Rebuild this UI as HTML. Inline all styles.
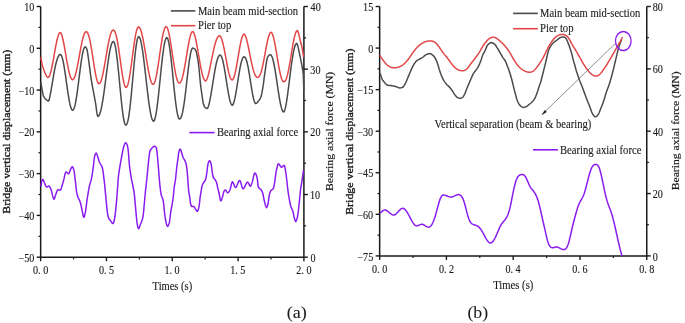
<!DOCTYPE html>
<html><head><meta charset="utf-8"><style>
html,body{margin:0;padding:0;background:#fff;width:685px;height:323px;overflow:hidden}
svg{display:block;will-change:transform}
text{font-family:'Liberation Serif',serif;fill:#1a1a1a;stroke:#1a1a1a;stroke-width:0.12px}
</style></head><body>
<svg width="685" height="323" viewBox="0 0 685 323">
<rect width="685" height="323" fill="#fff"/>
<path d="M40.65,6.5 V257.2 H303.9 V6.5" fill="none" stroke="#1a1a1a" stroke-width="1.5"/>
<line x1="36.65" y1="6.50" x2="40.65" y2="6.50" stroke="#1a1a1a" stroke-width="1.4"/>
<line x1="36.65" y1="48.28" x2="40.65" y2="48.28" stroke="#1a1a1a" stroke-width="1.4"/>
<line x1="36.65" y1="90.07" x2="40.65" y2="90.07" stroke="#1a1a1a" stroke-width="1.4"/>
<line x1="36.65" y1="131.85" x2="40.65" y2="131.85" stroke="#1a1a1a" stroke-width="1.4"/>
<line x1="36.65" y1="173.63" x2="40.65" y2="173.63" stroke="#1a1a1a" stroke-width="1.4"/>
<line x1="36.65" y1="215.42" x2="40.65" y2="215.42" stroke="#1a1a1a" stroke-width="1.4"/>
<line x1="36.65" y1="257.20" x2="40.65" y2="257.20" stroke="#1a1a1a" stroke-width="1.4"/>
<line x1="38.45" y1="27.39" x2="40.65" y2="27.39" stroke="#1a1a1a" stroke-width="1.2"/>
<line x1="38.45" y1="69.17" x2="40.65" y2="69.17" stroke="#1a1a1a" stroke-width="1.2"/>
<line x1="38.45" y1="110.96" x2="40.65" y2="110.96" stroke="#1a1a1a" stroke-width="1.2"/>
<line x1="38.45" y1="152.74" x2="40.65" y2="152.74" stroke="#1a1a1a" stroke-width="1.2"/>
<line x1="38.45" y1="194.52" x2="40.65" y2="194.52" stroke="#1a1a1a" stroke-width="1.2"/>
<line x1="38.45" y1="236.31" x2="40.65" y2="236.31" stroke="#1a1a1a" stroke-width="1.2"/>
<line x1="303.90" y1="6.50" x2="307.90" y2="6.50" stroke="#1a1a1a" stroke-width="1.4"/>
<line x1="303.90" y1="69.17" x2="307.90" y2="69.17" stroke="#1a1a1a" stroke-width="1.4"/>
<line x1="303.90" y1="131.85" x2="307.90" y2="131.85" stroke="#1a1a1a" stroke-width="1.4"/>
<line x1="303.90" y1="194.52" x2="307.90" y2="194.52" stroke="#1a1a1a" stroke-width="1.4"/>
<line x1="303.90" y1="257.20" x2="307.90" y2="257.20" stroke="#1a1a1a" stroke-width="1.4"/>
<line x1="303.90" y1="37.84" x2="306.10" y2="37.84" stroke="#1a1a1a" stroke-width="1.2"/>
<line x1="303.90" y1="100.51" x2="306.10" y2="100.51" stroke="#1a1a1a" stroke-width="1.2"/>
<line x1="303.90" y1="163.19" x2="306.10" y2="163.19" stroke="#1a1a1a" stroke-width="1.2"/>
<line x1="303.90" y1="225.86" x2="306.10" y2="225.86" stroke="#1a1a1a" stroke-width="1.2"/>
<line x1="40.65" y1="257.20" x2="40.65" y2="261.20" stroke="#1a1a1a" stroke-width="1.4"/>
<line x1="106.46" y1="257.20" x2="106.46" y2="261.20" stroke="#1a1a1a" stroke-width="1.4"/>
<line x1="172.28" y1="257.20" x2="172.28" y2="261.20" stroke="#1a1a1a" stroke-width="1.4"/>
<line x1="238.09" y1="257.20" x2="238.09" y2="261.20" stroke="#1a1a1a" stroke-width="1.4"/>
<line x1="303.90" y1="257.20" x2="303.90" y2="261.20" stroke="#1a1a1a" stroke-width="1.4"/>
<line x1="73.56" y1="257.20" x2="73.56" y2="259.40" stroke="#1a1a1a" stroke-width="1.2"/>
<line x1="139.37" y1="257.20" x2="139.37" y2="259.40" stroke="#1a1a1a" stroke-width="1.2"/>
<line x1="205.18" y1="257.20" x2="205.18" y2="259.40" stroke="#1a1a1a" stroke-width="1.2"/>
<line x1="270.99" y1="257.20" x2="270.99" y2="259.40" stroke="#1a1a1a" stroke-width="1.2"/>
<path d="M379.65,6.5 V255.9 H646.75 V6.5" fill="none" stroke="#1a1a1a" stroke-width="1.5"/>
<line x1="375.65" y1="6.50" x2="379.65" y2="6.50" stroke="#1a1a1a" stroke-width="1.4"/>
<line x1="375.65" y1="48.07" x2="379.65" y2="48.07" stroke="#1a1a1a" stroke-width="1.4"/>
<line x1="375.65" y1="89.63" x2="379.65" y2="89.63" stroke="#1a1a1a" stroke-width="1.4"/>
<line x1="375.65" y1="131.20" x2="379.65" y2="131.20" stroke="#1a1a1a" stroke-width="1.4"/>
<line x1="375.65" y1="172.77" x2="379.65" y2="172.77" stroke="#1a1a1a" stroke-width="1.4"/>
<line x1="375.65" y1="214.33" x2="379.65" y2="214.33" stroke="#1a1a1a" stroke-width="1.4"/>
<line x1="375.65" y1="255.90" x2="379.65" y2="255.90" stroke="#1a1a1a" stroke-width="1.4"/>
<line x1="377.45" y1="27.28" x2="379.65" y2="27.28" stroke="#1a1a1a" stroke-width="1.2"/>
<line x1="377.45" y1="68.85" x2="379.65" y2="68.85" stroke="#1a1a1a" stroke-width="1.2"/>
<line x1="377.45" y1="110.42" x2="379.65" y2="110.42" stroke="#1a1a1a" stroke-width="1.2"/>
<line x1="377.45" y1="151.98" x2="379.65" y2="151.98" stroke="#1a1a1a" stroke-width="1.2"/>
<line x1="377.45" y1="193.55" x2="379.65" y2="193.55" stroke="#1a1a1a" stroke-width="1.2"/>
<line x1="377.45" y1="235.12" x2="379.65" y2="235.12" stroke="#1a1a1a" stroke-width="1.2"/>
<line x1="646.75" y1="6.50" x2="650.75" y2="6.50" stroke="#1a1a1a" stroke-width="1.4"/>
<line x1="646.75" y1="68.85" x2="650.75" y2="68.85" stroke="#1a1a1a" stroke-width="1.4"/>
<line x1="646.75" y1="131.20" x2="650.75" y2="131.20" stroke="#1a1a1a" stroke-width="1.4"/>
<line x1="646.75" y1="193.55" x2="650.75" y2="193.55" stroke="#1a1a1a" stroke-width="1.4"/>
<line x1="646.75" y1="255.90" x2="650.75" y2="255.90" stroke="#1a1a1a" stroke-width="1.4"/>
<line x1="646.75" y1="37.67" x2="648.95" y2="37.67" stroke="#1a1a1a" stroke-width="1.2"/>
<line x1="646.75" y1="100.02" x2="648.95" y2="100.02" stroke="#1a1a1a" stroke-width="1.2"/>
<line x1="646.75" y1="162.38" x2="648.95" y2="162.38" stroke="#1a1a1a" stroke-width="1.2"/>
<line x1="646.75" y1="224.73" x2="648.95" y2="224.73" stroke="#1a1a1a" stroke-width="1.2"/>
<line x1="379.65" y1="255.90" x2="379.65" y2="259.90" stroke="#1a1a1a" stroke-width="1.4"/>
<line x1="446.42" y1="255.90" x2="446.42" y2="259.90" stroke="#1a1a1a" stroke-width="1.4"/>
<line x1="513.20" y1="255.90" x2="513.20" y2="259.90" stroke="#1a1a1a" stroke-width="1.4"/>
<line x1="579.98" y1="255.90" x2="579.98" y2="259.90" stroke="#1a1a1a" stroke-width="1.4"/>
<line x1="646.75" y1="255.90" x2="646.75" y2="259.90" stroke="#1a1a1a" stroke-width="1.4"/>
<line x1="413.04" y1="255.90" x2="413.04" y2="258.10" stroke="#1a1a1a" stroke-width="1.2"/>
<line x1="479.81" y1="255.90" x2="479.81" y2="258.10" stroke="#1a1a1a" stroke-width="1.2"/>
<line x1="546.59" y1="255.90" x2="546.59" y2="258.10" stroke="#1a1a1a" stroke-width="1.2"/>
<line x1="613.36" y1="255.90" x2="613.36" y2="258.10" stroke="#1a1a1a" stroke-width="1.2"/>
<path d="M40.80,82.00 41.30,84.82 41.80,87.92 42.30,91.00 42.80,93.48 43.30,95.47 43.80,96.61 44.30,97.48 44.80,98.19 45.30,98.76 45.80,99.24 46.30,99.67 46.80,100.09 47.30,100.47 47.80,100.78 48.30,100.97 48.60,101.00 49.10,99.87 49.60,97.94 50.10,95.57 50.60,92.92 51.10,90.07 51.60,87.11 52.10,84.10 52.60,81.09 53.10,78.13 53.60,75.25 54.10,72.47 54.60,69.85 55.10,67.38 55.60,65.10 56.10,63.02 56.60,61.15 57.10,59.51 57.60,58.10 58.10,56.91 58.60,55.97 59.10,55.26 59.60,54.79 60.10,54.54 60.40,54.50 60.90,54.75 61.40,55.48 61.90,56.67 62.40,58.29 62.90,60.31 63.40,62.69 63.90,65.40 64.40,68.38 64.90,71.59 65.40,74.98 65.90,78.48 66.40,82.04 66.90,85.60 67.40,89.11 67.90,92.50 68.40,95.72 68.90,98.73 69.40,101.46 69.90,103.88 70.40,105.95 70.90,107.64 71.40,108.91 71.90,109.76 72.40,110.16 72.60,110.20 73.10,109.99 73.60,109.34 74.10,108.23 74.60,106.68 75.10,104.70 75.60,102.31 76.10,99.55 76.60,96.46 77.10,93.08 77.60,89.47 78.10,85.67 78.60,81.76 79.10,77.78 79.60,73.81 80.10,69.91 80.60,66.13 81.10,62.55 81.60,59.22 82.10,56.19 82.60,53.52 83.10,51.24 83.60,49.41 84.10,48.04 84.60,47.17 85.10,46.81 85.20,46.80 85.70,47.07 86.20,47.79 86.70,48.85 87.20,50.32 87.70,53.39 88.20,57.00 88.70,60.51 89.20,64.24 89.70,68.03 90.20,72.00 90.70,75.80 91.20,79.16 91.70,82.24 92.20,85.13 92.70,87.82 93.20,90.42 93.70,93.06 94.20,95.67 94.70,98.34 95.20,101.13 95.70,104.05 96.20,107.55 96.70,111.69 97.20,114.53 97.70,116.33 97.80,116.40 98.30,116.26 98.80,115.79 99.30,114.99 99.80,113.85 100.30,112.36 100.80,110.54 101.30,108.40 101.80,105.96 102.30,103.23 102.80,100.25 103.30,97.04 103.80,93.63 104.30,90.06 104.80,86.36 105.30,82.58 105.80,78.74 106.30,74.90 106.80,71.09 107.30,67.35 107.80,63.73 108.30,60.27 108.80,57.00 109.30,53.96 109.80,51.19 110.30,48.72 110.80,46.57 111.30,44.78 111.80,43.36 112.30,42.33 112.80,41.71 113.30,41.50 113.80,41.79 114.30,42.70 114.80,44.23 115.30,46.35 115.80,49.05 116.30,52.30 116.80,56.03 117.30,60.20 117.80,64.74 118.30,69.58 118.80,74.65 119.30,79.86 119.80,85.14 120.30,90.39 120.80,95.54 121.30,100.50 121.80,105.18 122.30,109.52 122.80,113.44 123.30,116.87 123.80,119.76 124.30,122.07 124.80,123.74 125.30,124.76 125.80,125.10 126.30,124.90 126.80,124.22 127.30,123.01 127.80,121.23 128.30,118.90 128.80,116.02 129.30,112.62 129.80,108.73 130.30,104.41 130.80,99.70 131.30,94.67 131.80,89.39 132.30,83.96 132.80,78.44 133.30,72.93 133.80,67.51 134.30,62.29 134.80,57.33 135.30,52.74 135.80,48.60 136.30,44.97 136.80,41.93 137.30,39.53 137.80,37.82 138.30,36.84 138.70,36.60 139.20,36.88 139.70,37.67 140.20,38.94 140.70,40.67 141.20,42.84 141.70,45.41 142.20,48.36 142.70,51.64 143.20,55.21 143.70,59.05 144.20,63.09 144.70,67.30 145.20,71.63 145.70,76.03 146.20,80.46 146.70,84.86 147.20,89.19 147.70,93.40 148.20,97.45 148.70,101.29 149.20,104.89 149.70,108.21 150.20,111.20 150.70,113.85 151.20,116.12 151.70,118.00 152.20,119.45 152.70,120.48 153.20,121.06 153.60,121.20 154.10,120.86 154.60,119.89 155.10,118.32 155.60,116.18 156.10,113.52 156.60,110.37 157.10,106.79 157.60,102.83 158.10,98.54 158.60,93.99 159.10,89.25 159.60,84.37 160.10,79.44 160.60,74.51 161.10,69.66 161.60,64.95 162.10,60.44 162.60,56.20 163.10,52.29 163.60,48.75 164.10,45.64 164.60,42.99 165.10,40.85 165.60,39.23 166.10,38.16 166.60,37.65 166.80,37.60 167.30,37.95 167.80,38.96 168.30,40.59 168.80,42.81 169.30,45.58 169.80,48.84 170.30,52.56 170.80,56.66 171.30,61.09 171.80,65.76 172.30,70.63 172.80,75.60 173.30,80.60 173.80,85.56 174.30,90.41 174.80,95.07 175.30,99.47 175.80,103.55 176.30,107.25 176.80,110.52 177.30,113.31 177.80,115.57 178.30,117.28 178.80,118.41 179.30,118.95 179.50,119.00 180.00,118.88 180.50,118.43 181.00,117.61 181.50,116.38 182.00,114.74 182.50,112.68 183.00,110.21 183.50,107.35 184.00,104.14 184.50,100.59 185.00,96.77 185.50,92.72 186.00,88.50 186.50,84.16 187.00,79.79 187.50,75.43 188.00,71.18 188.50,67.10 189.00,63.25 189.50,59.71 190.00,56.55 190.50,53.81 191.00,51.57 191.50,49.85 192.00,48.70 192.50,48.15 192.70,48.10 193.20,48.16 193.70,48.32 194.20,48.57 194.70,48.87 195.20,49.45 195.70,50.34 196.20,51.56 196.70,53.57 197.20,56.00 197.70,58.56 198.20,61.59 198.70,65.66 199.20,70.72 199.70,75.95 200.20,81.40 200.70,86.06 201.20,89.68 201.70,93.02 202.20,96.62 202.70,100.25 203.20,103.00 203.70,104.84 204.20,106.17 204.70,106.87 205.20,107.43 205.70,107.89 206.20,108.24 206.70,108.45 207.10,108.50 207.60,108.09 208.10,107.11 208.60,105.67 209.10,103.84 209.60,101.68 210.10,99.23 210.60,96.54 211.10,93.67 211.60,90.66 212.10,87.56 212.60,84.41 213.10,81.25 213.60,78.13 214.10,75.09 214.60,72.16 215.10,69.37 215.60,66.77 216.10,64.38 216.60,62.22 217.10,60.32 217.60,58.70 218.10,57.36 218.60,56.33 219.10,55.61 219.60,55.20 220.00,55.10 220.50,55.27 221.00,55.79 221.50,56.69 222.00,57.96 222.50,59.58 223.00,61.53 223.50,63.79 224.00,66.33 224.50,69.09 225.00,72.05 225.50,75.15 226.00,78.33 226.50,81.56 227.00,84.77 227.50,87.92 228.00,90.93 228.50,93.78 229.00,96.39 229.50,98.74 230.00,100.77 230.50,102.45 231.00,103.75 231.50,104.65 232.00,105.12 232.30,105.20 232.80,104.86 233.30,103.96 233.80,102.60 234.30,100.83 234.80,98.69 235.30,96.25 235.80,93.54 236.30,90.64 236.80,87.59 237.30,84.44 237.80,81.26 238.30,78.09 238.80,75.00 239.30,72.02 239.80,69.20 240.30,66.60 240.80,64.24 241.30,62.16 241.80,60.39 242.30,58.96 242.80,57.88 243.30,57.17 243.80,56.83 244.00,56.80 244.50,56.91 245.00,57.31 245.50,58.03 246.00,59.09 246.50,60.50 247.00,62.25 247.50,64.33 248.00,66.70 248.50,69.33 249.00,72.19 249.50,75.21 250.00,78.36 250.50,81.56 251.00,84.77 251.50,87.90 252.00,90.91 252.50,93.72 253.00,96.27 253.50,98.51 254.00,100.38 254.50,101.85 255.00,102.87 255.50,103.41 255.80,103.50 256.30,103.36 256.80,102.99 257.30,102.46 257.80,101.85 258.30,101.22 258.80,100.62 259.30,99.98 259.80,99.25 260.30,98.37 260.80,97.30 261.30,95.80 261.80,93.41 262.30,90.70 262.80,87.86 263.30,84.68 263.80,80.96 264.30,77.00 264.80,73.43 265.30,70.00 265.80,66.49 266.30,63.15 266.80,60.32 267.30,57.93 267.80,56.89 268.30,56.14 268.80,55.53 269.30,55.08 269.80,54.80 270.30,54.70 270.80,54.87 271.30,55.39 271.80,56.27 272.30,57.51 272.80,59.09 273.30,61.01 273.80,63.23 274.30,65.74 274.80,68.49 275.30,71.45 275.80,74.59 276.30,77.85 276.80,81.20 277.30,84.58 277.80,87.95 278.30,91.26 278.80,94.47 279.30,97.52 279.80,100.38 280.30,103.00 280.80,105.35 281.30,107.38 281.80,109.07 282.30,110.40 282.80,111.33 283.30,111.87 283.70,112.00 284.20,111.53 284.70,110.37 285.20,108.64 285.70,106.43 286.20,103.78 286.70,100.77 287.20,97.45 287.70,93.88 288.20,90.11 288.70,86.21 289.20,82.22 289.70,78.21 290.20,74.22 290.70,70.31 291.20,66.52 291.70,62.91 292.20,59.50 292.70,56.34 293.20,53.47 293.70,50.91 294.20,48.69 294.70,46.83 295.20,45.36 295.70,44.27 296.20,43.59 296.70,43.31 296.80,43.30 297.30,44.08 297.80,45.95 298.30,48.18 298.80,50.23 299.30,52.50 299.80,54.93 300.30,57.40 300.80,59.83 301.30,62.30 301.80,64.95 302.30,67.81 302.80,70.45 303.30,74.74 303.80,90.00" fill="none" stroke="#4a4a4a" stroke-width="1.5" stroke-linejoin="round"/>
<path d="M40.90,57.00 41.40,60.70 41.90,63.45 42.40,65.38 42.90,66.96 43.40,68.41 43.90,69.89 44.40,71.36 44.90,72.72 45.40,73.91 45.90,74.87 46.40,75.80 46.90,76.65 47.40,77.26 47.90,77.50 48.40,77.34 48.90,76.83 49.40,75.99 49.90,74.82 50.40,73.33 50.90,71.55 51.40,69.50 51.90,67.22 52.40,64.74 52.90,62.10 53.40,59.34 53.90,56.51 54.40,53.64 54.90,50.80 55.40,48.02 55.90,45.36 56.40,42.85 56.90,40.53 57.40,38.45 57.90,36.64 58.40,35.13 58.90,33.94 59.40,33.10 59.90,32.62 60.30,32.50 60.80,32.85 61.30,33.74 61.80,35.05 62.30,36.73 62.80,38.74 63.30,41.01 63.80,43.52 64.30,46.20 64.80,49.01 65.30,51.91 65.80,54.84 66.30,57.77 66.80,60.65 67.30,63.44 67.80,66.11 68.30,68.61 68.80,70.91 69.30,72.99 69.80,74.83 70.30,76.39 70.80,77.66 71.30,78.63 71.80,79.30 72.30,79.64 72.60,79.70 73.10,79.53 73.60,79.03 74.10,78.21 74.60,77.09 75.10,75.69 75.60,74.01 76.10,72.09 76.60,69.96 77.10,67.64 77.60,65.16 78.10,62.55 78.60,59.86 79.10,57.11 79.60,54.35 80.10,51.61 80.60,48.92 81.10,46.33 81.60,43.85 82.10,41.54 82.60,39.41 83.10,37.50 83.60,35.83 84.10,34.42 84.60,33.29 85.10,32.46 85.60,31.93 86.10,31.71 86.20,31.70 86.70,31.83 87.20,32.27 87.70,33.03 88.20,34.14 88.70,35.58 89.20,37.35 89.70,39.43 90.20,41.79 90.70,44.40 91.20,47.23 91.70,50.24 92.20,53.38 92.70,56.60 93.20,59.86 93.70,63.09 94.20,66.26 94.70,69.29 95.20,72.16 95.70,74.79 96.20,77.16 96.70,79.21 97.20,80.91 97.70,82.23 98.20,83.14 98.70,83.62 99.00,83.70 99.50,83.52 100.00,83.00 100.50,82.14 101.00,80.97 101.50,79.49 102.00,77.73 102.50,75.72 103.00,73.47 103.50,71.02 104.00,68.40 104.50,65.64 105.00,62.77 105.50,59.84 106.00,56.86 106.50,53.90 107.00,50.97 107.50,48.11 108.00,45.37 108.50,42.77 109.00,40.34 109.50,38.12 110.00,36.12 110.50,34.39 111.00,32.92 111.50,31.75 112.00,30.88 112.50,30.33 113.00,30.11 113.10,30.10 113.60,30.19 114.10,30.54 114.60,31.19 115.10,32.18 115.60,33.51 116.10,35.19 116.60,37.22 117.10,39.58 117.60,42.25 118.10,45.19 118.60,48.37 119.10,51.75 119.60,55.28 120.10,58.89 120.60,62.54 121.10,66.15 121.60,69.67 122.10,73.03 122.60,76.17 123.10,79.02 123.60,81.53 124.10,83.65 124.60,85.33 125.10,86.54 125.60,87.23 126.00,87.40 126.50,87.19 127.00,86.54 127.50,85.44 128.00,83.91 128.50,81.96 129.00,79.63 129.50,76.94 130.00,73.93 130.50,70.65 131.00,67.15 131.50,63.49 132.00,59.73 132.50,55.91 133.00,52.12 133.50,48.39 134.00,44.81 134.50,41.42 135.00,38.28 135.50,35.44 136.00,32.96 136.50,30.86 137.00,29.20 137.50,27.98 138.00,27.25 138.50,27.00 139.00,27.15 139.50,27.61 140.00,28.39 140.50,29.47 141.00,30.85 141.50,32.51 142.00,34.43 142.50,36.60 143.00,38.98 143.50,41.56 144.00,44.31 144.50,47.18 145.00,50.16 145.50,53.20 146.00,56.27 146.50,59.34 147.00,62.37 147.50,65.33 148.00,68.17 148.50,70.88 149.00,73.40 149.50,75.73 150.00,77.82 150.50,79.66 151.00,81.22 151.50,82.49 152.00,83.44 152.50,84.07 153.00,84.37 153.20,84.40 153.70,84.15 154.20,83.44 154.70,82.30 155.20,80.75 155.70,78.83 156.20,76.58 156.70,74.01 157.20,71.18 157.70,68.13 158.20,64.91 158.70,61.56 159.20,58.12 159.70,54.66 160.20,51.22 160.70,47.84 161.20,44.58 161.70,41.48 162.20,38.58 162.70,35.93 163.20,33.55 163.70,31.48 164.20,29.75 164.70,28.39 165.20,27.40 165.70,26.80 166.20,26.60 166.70,26.90 167.20,27.70 167.70,28.94 168.20,30.58 168.70,32.58 169.20,34.90 169.70,37.49 170.20,40.32 170.70,43.34 171.20,46.51 171.70,49.77 172.20,53.09 172.70,56.42 173.20,59.71 173.70,62.91 174.20,66.00 174.70,68.93 175.20,71.65 175.70,74.15 176.20,76.38 176.70,78.33 177.20,79.96 177.70,81.27 178.20,82.23 178.70,82.84 179.20,83.09 179.30,83.10 179.80,82.98 180.30,82.59 180.80,81.91 181.30,80.91 181.80,79.61 182.30,78.01 182.80,76.13 183.30,73.98 183.80,71.60 184.30,69.00 184.80,66.22 185.30,63.31 185.80,60.29 186.30,57.22 186.80,54.13 187.30,51.08 187.80,48.10 188.30,45.25 188.80,42.57 189.30,40.10 189.80,37.87 190.30,35.94 190.80,34.32 191.30,33.05 191.80,32.15 192.30,31.63 192.70,31.50 193.20,31.80 193.70,32.57 194.20,33.75 194.70,35.29 195.20,37.15 195.70,39.29 196.20,41.67 196.70,44.24 197.20,46.97 197.70,49.81 198.20,52.72 198.70,55.67 199.20,58.60 199.70,61.48 200.20,64.27 200.70,66.94 201.20,69.45 201.70,71.77 202.20,73.88 202.70,75.74 203.20,77.34 203.70,78.65 204.20,79.68 204.70,80.39 205.20,80.80 205.60,80.90 206.10,80.58 206.60,79.81 207.10,78.69 207.60,77.28 208.10,75.60 208.60,73.72 209.10,71.64 209.60,69.42 210.10,67.09 210.60,64.67 211.10,62.20 211.60,59.71 212.10,57.23 212.60,54.78 213.10,52.40 213.60,50.10 214.10,47.92 214.60,45.87 215.10,43.97 215.60,42.24 216.10,40.69 216.60,39.34 217.10,38.20 217.60,37.27 218.10,36.57 218.60,36.09 219.10,35.84 219.40,35.80 219.90,35.95 220.40,36.40 220.90,37.17 221.40,38.25 221.90,39.62 222.40,41.27 222.90,43.18 223.40,45.31 223.90,47.64 224.40,50.14 224.90,52.76 225.40,55.46 225.90,58.20 226.40,60.95 226.90,63.65 227.40,66.27 227.90,68.76 228.40,71.08 228.90,73.19 229.40,75.07 229.90,76.68 230.40,78.00 230.90,78.99 231.40,79.66 231.90,79.97 232.10,80.00 232.60,79.79 233.10,79.19 233.60,78.20 234.10,76.86 234.60,75.17 235.10,73.19 235.60,70.93 236.10,68.44 236.60,65.76 237.10,62.93 237.60,60.01 238.10,57.04 238.60,54.07 239.10,51.16 239.60,48.34 240.10,45.67 240.60,43.19 241.10,40.94 241.60,38.96 242.10,37.27 242.60,35.92 243.10,34.91 243.60,34.27 244.10,34.01 244.20,34.00 244.70,34.38 245.20,35.25 245.70,36.49 246.20,38.04 246.70,39.84 247.20,41.85 247.70,44.03 248.20,46.35 248.70,48.76 249.20,51.23 249.70,53.72 250.20,56.22 250.70,58.67 251.20,61.06 251.70,63.37 252.20,65.55 252.70,67.60 253.20,69.50 253.70,71.22 254.20,72.74 254.70,74.07 255.20,75.18 255.70,76.07 256.20,76.74 256.70,77.18 257.20,77.38 257.40,77.40 257.90,77.34 258.40,77.12 258.90,76.70 259.40,76.04 259.90,75.15 260.40,74.02 260.90,72.63 261.40,71.01 261.90,69.16 262.40,67.09 262.90,64.84 263.40,62.41 263.90,59.86 264.40,57.20 264.90,54.48 265.40,51.74 265.90,49.02 266.40,46.37 266.90,43.82 267.40,41.44 267.90,39.25 268.40,37.30 268.90,35.62 269.40,34.26 269.90,33.24 270.40,32.58 270.90,32.31 271.00,32.30 271.50,32.53 272.00,33.19 272.50,34.24 273.00,35.65 273.50,37.39 274.00,39.44 274.50,41.74 275.00,44.28 275.50,47.00 276.00,49.86 276.50,52.83 277.00,55.84 277.50,58.87 278.00,61.86 278.50,64.78 279.00,67.57 279.50,70.20 280.00,72.64 280.50,74.84 281.00,76.78 281.50,78.43 282.00,79.77 282.50,80.79 283.00,81.45 283.50,81.77 283.70,81.80 284.20,81.72 284.70,81.42 285.20,80.87 285.70,80.05 286.20,78.94 286.70,77.55 287.20,75.88 287.70,73.94 288.20,71.75 288.70,69.34 289.20,66.72 289.70,63.93 290.20,61.01 290.70,58.00 291.20,54.94 291.70,51.87 292.20,48.84 292.70,45.91 293.20,43.11 293.70,40.49 294.20,38.10 294.70,35.99 295.20,34.17 295.70,32.71 296.20,31.61 296.70,30.90 297.20,30.61 297.30,30.60 297.80,31.09 298.30,32.39 298.80,34.26 299.30,36.43 299.80,38.66 300.30,40.70 300.80,42.56 301.30,44.49 301.80,46.60 302.30,49.01 302.80,51.82 303.30,54.98 303.60,57.00" fill="none" stroke="#e24646" stroke-width="1.5" stroke-linejoin="round"/>
<path d="M41.00,186.30 41.50,182.35 42.00,180.53 42.50,179.65 43.00,179.43 43.50,180.25 44.00,181.68 44.50,183.00 45.00,184.15 45.50,185.38 46.00,186.43 46.50,187.04 47.00,187.04 47.50,186.74 48.00,186.36 48.50,186.06 49.00,186.04 49.50,186.49 50.00,187.31 50.50,188.36 51.00,189.50 51.50,191.10 52.00,193.20 52.50,195.17 53.00,196.86 53.50,198.48 54.00,199.20 54.50,198.54 55.00,196.99 55.50,195.19 56.00,193.76 56.50,192.40 57.00,191.05 57.50,190.01 58.00,189.60 58.50,189.68 59.00,189.86 59.50,190.06 60.00,190.19 60.50,190.02 61.00,189.04 61.50,187.52 62.00,185.80 62.50,184.20 63.00,182.59 63.50,180.82 64.00,178.88 64.50,176.30 65.00,173.86 65.50,172.67 66.00,172.07 66.50,172.08 67.00,172.47 67.50,173.01 68.00,173.52 68.50,173.79 69.00,173.44 69.50,172.26 70.00,170.80 70.50,169.60 71.00,168.64 71.50,167.69 72.00,167.00 72.50,166.82 73.00,167.44 73.50,168.75 74.00,170.50 74.50,173.96 75.00,178.31 75.50,182.45 76.00,186.85 76.50,191.37 77.00,193.95 77.50,195.83 78.00,197.30 78.50,198.43 79.00,199.34 79.50,200.32 80.00,201.63 80.50,203.24 81.00,205.10 81.50,207.44 82.00,210.07 82.50,212.45 83.00,215.03 83.50,217.00 84.00,217.27 84.50,216.01 85.00,213.90 85.50,211.49 86.00,208.03 86.50,203.98 87.00,200.41 87.50,196.99 88.00,193.80 88.50,190.77 89.00,187.91 89.50,185.50 90.00,183.70 90.50,182.20 91.00,180.50 91.50,178.25 92.00,175.52 92.50,172.46 93.00,168.90 93.50,165.04 94.00,160.91 94.50,156.95 95.00,155.14 95.50,153.80 96.00,153.07 96.50,153.23 97.00,154.37 97.50,155.91 98.00,157.46 98.50,159.34 99.00,161.00 99.50,162.22 100.00,163.26 100.50,164.20 101.00,164.96 101.50,165.64 102.00,166.60 102.50,168.43 103.00,171.10 103.50,174.98 104.00,179.09 104.50,183.18 105.00,188.17 105.50,193.80 106.00,198.64 106.50,203.56 107.00,209.32 107.50,213.29 108.00,216.03 108.50,217.87 109.00,218.80 109.50,219.43 110.00,219.95 110.50,220.57 111.00,221.33 111.50,222.14 112.00,222.87 112.50,223.40 113.00,223.60 113.50,222.95 114.00,221.30 114.50,219.06 115.00,216.24 115.50,211.81 116.00,206.80 116.50,201.59 117.00,195.51 117.50,188.45 118.00,181.65 118.50,175.80 119.00,171.93 119.50,168.80 120.00,165.79 120.50,162.88 121.00,160.13 121.50,157.51 122.00,154.90 122.50,152.23 123.00,149.68 123.50,147.47 124.00,145.80 124.50,144.45 125.00,143.31 125.50,142.72 126.00,142.86 126.50,143.48 127.00,144.48 127.50,145.80 128.00,148.85 128.50,153.52 129.00,160.17 129.50,165.90 130.00,169.91 130.50,173.31 131.00,176.33 131.50,179.16 132.00,181.64 132.50,184.00 133.00,186.50 133.50,189.01 134.00,191.75 134.50,195.60 135.00,201.37 135.50,207.03 136.00,212.50 136.50,217.79 137.00,222.54 137.50,225.49 138.00,227.66 138.50,228.60 139.00,228.14 139.50,227.01 140.00,225.59 140.50,224.25 141.00,223.07 141.50,221.86 142.00,220.47 142.50,218.77 143.00,216.60 143.50,212.75 144.00,207.31 144.50,201.79 145.00,195.95 145.50,190.90 146.00,186.40 146.50,182.01 147.00,177.50 147.50,172.07 148.00,166.74 148.50,161.80 149.00,157.25 149.50,153.01 150.00,150.95 150.50,149.93 151.00,149.24 151.50,148.65 152.00,148.07 152.50,147.53 153.00,147.04 153.50,146.65 154.00,146.36 154.50,146.21 155.00,146.26 155.50,146.64 156.00,147.34 156.50,148.42 157.00,152.22 157.50,157.02 158.00,162.48 158.50,168.47 159.00,175.05 159.50,180.95 160.00,186.19 160.50,190.51 161.00,193.80 161.50,195.71 162.00,197.05 162.50,198.29 163.00,199.93 163.50,202.72 164.00,207.39 164.50,212.50 165.00,216.46 165.50,219.50 166.00,222.00 166.50,223.94 167.00,225.64 167.50,226.40 168.00,226.05 168.50,225.11 169.00,223.75 169.50,221.88 170.00,217.99 170.50,213.70 171.00,210.54 171.50,207.71 172.00,204.87 172.50,202.14 173.00,199.00 173.50,194.49 174.00,189.24 174.50,185.00 175.00,182.57 175.50,179.50 176.00,174.76 176.50,169.73 177.00,165.00 177.50,161.78 178.00,158.55 178.50,154.18 179.00,151.52 179.50,149.87 180.00,149.03 180.50,149.37 181.00,150.59 181.50,152.18 182.00,153.73 182.50,155.57 183.00,157.25 183.50,158.30 184.00,159.07 184.50,159.83 185.00,160.82 185.50,162.08 186.00,163.70 186.50,166.03 187.00,169.63 187.50,175.36 188.00,182.50 188.50,189.01 189.00,193.28 189.50,195.69 190.00,199.23 190.50,203.35 191.00,205.10 191.50,206.27 192.00,206.60 192.50,206.51 193.00,206.39 193.50,206.30 194.00,206.55 194.50,207.34 195.00,208.33 195.50,209.14 196.00,209.95 196.50,210.75 197.00,211.29 197.50,211.31 198.00,210.41 198.50,208.83 199.00,206.84 199.50,203.01 200.00,198.37 200.50,194.80 201.00,191.77 201.50,188.73 202.00,186.00 202.50,184.64 203.00,183.65 203.50,182.83 204.00,182.05 204.50,181.46 205.00,180.83 205.50,179.90 206.00,177.88 206.50,174.82 207.00,171.50 207.50,167.26 208.00,163.87 208.50,162.36 209.00,161.25 209.50,160.72 210.00,160.99 210.50,162.02 211.00,163.50 211.50,166.65 212.00,170.50 212.50,173.62 213.00,176.30 213.50,177.72 214.00,178.49 214.50,179.04 215.00,179.58 215.50,180.30 216.00,181.27 216.50,182.49 217.00,184.20 217.50,186.82 218.00,189.07 218.50,191.01 219.00,193.00 219.50,195.60 220.00,198.49 220.50,200.58 221.00,200.90 221.50,199.96 222.00,198.43 222.50,196.80 223.00,194.84 223.50,192.68 224.00,191.32 224.50,190.47 225.00,189.95 225.50,190.01 226.00,190.55 226.50,191.35 227.00,192.15 227.50,192.69 228.00,192.76 228.50,192.38 229.00,191.67 229.50,190.77 230.00,189.80 230.50,188.29 231.00,186.10 231.50,183.86 232.00,182.19 232.50,181.72 233.00,182.28 233.50,183.40 234.00,184.79 234.50,186.15 235.00,187.19 235.50,187.60 236.00,187.32 236.50,186.57 237.00,185.50 237.50,184.26 238.00,182.98 238.50,181.83 239.00,180.93 239.50,180.45 240.00,180.60 240.50,181.64 241.00,183.28 241.50,185.17 242.00,186.95 242.50,188.28 243.00,188.80 243.50,188.58 244.00,188.00 244.50,187.15 245.00,186.14 245.50,185.07 246.00,184.04 246.50,183.15 247.00,182.51 247.50,182.21 248.00,182.42 248.50,183.17 249.00,184.20 249.50,185.23 250.00,185.98 250.50,186.18 251.00,185.49 251.50,184.26 252.00,182.96 252.50,181.14 253.00,178.93 253.50,176.67 254.00,174.70 254.50,173.37 255.00,173.01 255.50,173.38 256.00,174.27 256.50,175.64 257.00,177.49 257.50,180.17 258.00,185.71 258.50,187.20 259.00,188.05 259.50,188.60 260.00,188.94 260.50,189.25 261.00,189.71 261.50,190.42 262.00,191.37 262.50,192.55 263.00,194.21 263.50,196.77 264.00,199.30 264.50,201.50 265.00,203.64 265.50,205.46 266.00,206.80 266.50,207.60 267.00,207.07 267.50,205.69 268.00,203.81 268.50,201.11 269.00,196.76 269.50,194.14 270.00,192.52 270.50,191.31 271.00,190.50 271.50,190.03 272.00,189.75 272.50,189.47 273.00,189.05 273.50,188.13 274.00,186.11 274.50,183.50 275.00,179.82 275.50,176.11 276.00,172.66 276.50,169.71 277.00,167.57 277.50,165.61 278.00,164.21 278.50,163.81 279.00,164.13 279.50,164.78 280.00,165.58 280.50,166.37 281.00,166.96 281.50,167.20 282.00,167.02 282.50,166.57 283.00,166.03 283.50,165.56 284.00,165.31 284.50,165.80 285.00,167.64 285.50,170.49 286.00,173.98 286.50,177.76 287.00,181.72 287.50,186.97 288.00,191.10 288.50,194.49 289.00,197.50 289.50,200.36 290.00,203.03 290.50,205.27 291.00,206.90 291.50,208.09 292.00,209.11 292.50,210.24 293.00,211.76 293.50,214.16 294.00,216.70 294.50,218.59 295.00,220.36 295.50,221.48 296.00,221.39 296.50,220.30 297.00,218.62 297.50,216.62 298.00,213.49 298.50,209.60 299.00,205.11 299.50,200.00 300.00,194.72 300.50,190.00 301.00,186.70 301.50,183.84 302.00,180.62 302.50,177.21 303.00,173.68 303.50,170.00" fill="none" stroke="#8a1cf0" stroke-width="1.5" stroke-linejoin="round"/>
<path d="M380.20,73.40 380.70,75.06 381.20,76.60 381.70,77.97 382.20,79.11 382.70,80.03 383.20,80.81 383.70,81.51 384.20,82.12 384.70,82.68 385.20,83.21 385.70,83.75 386.20,84.27 386.70,84.72 387.20,85.05 387.70,85.22 388.20,85.31 388.70,85.37 389.20,85.42 389.70,85.46 390.20,85.50 390.70,85.55 391.20,85.61 391.70,85.69 392.20,85.78 392.70,85.87 393.20,85.97 393.70,86.08 394.20,86.19 394.70,86.31 395.20,86.43 395.70,86.55 396.20,86.72 396.70,86.91 397.20,87.12 397.70,87.34 398.20,87.53 398.70,87.70 399.20,87.83 399.70,87.89 400.20,87.89 400.70,87.84 401.20,87.76 401.70,87.64 402.20,87.50 402.70,87.31 403.20,86.88 403.70,86.24 404.20,85.45 404.70,84.59 405.20,83.73 405.70,82.76 406.20,81.65 406.70,80.46 407.20,79.24 407.70,78.03 408.20,76.86 408.70,75.65 409.20,74.44 409.70,73.23 410.20,72.06 410.70,70.92 411.20,69.76 411.70,68.63 412.20,67.54 412.70,66.54 413.20,65.65 413.70,64.80 414.20,63.97 414.70,63.19 415.20,62.47 415.70,61.83 416.20,61.28 416.70,60.83 417.20,60.47 417.70,60.15 418.20,59.86 418.70,59.59 419.20,59.30 419.70,59.01 420.20,58.73 420.70,58.46 421.20,58.19 421.70,57.91 422.20,57.62 422.70,57.30 423.20,56.93 423.70,56.51 424.20,56.07 424.70,55.63 425.20,55.21 425.70,54.86 426.20,54.60 426.70,54.39 427.20,54.19 427.70,54.00 428.20,53.84 428.70,53.71 429.20,53.63 429.70,53.60 430.20,53.66 430.70,53.83 431.20,54.08 431.70,54.40 432.20,54.78 432.70,55.18 433.20,55.60 433.70,56.09 434.20,56.70 434.70,57.43 435.20,58.24 435.70,59.13 436.20,60.11 436.70,61.30 437.20,62.66 437.70,64.10 438.20,65.74 438.70,67.53 439.20,69.26 439.70,70.81 440.20,72.29 440.70,73.70 441.20,75.02 441.70,76.23 442.20,77.37 442.70,78.44 443.20,79.43 443.70,80.33 444.20,81.14 444.70,81.90 445.20,82.60 445.70,83.25 446.20,83.86 446.70,84.44 447.20,84.96 447.70,85.44 448.20,85.90 448.70,86.37 449.20,86.85 449.70,87.37 450.20,87.96 450.70,88.59 451.20,89.26 451.70,89.96 452.20,90.67 452.70,91.40 453.20,92.19 453.70,93.02 454.20,93.83 454.70,94.58 455.20,95.22 455.70,95.82 456.20,96.39 456.70,96.91 457.20,97.34 457.70,97.66 458.20,97.86 458.70,98.05 459.20,98.20 459.70,98.28 460.20,98.29 460.70,98.22 461.20,98.07 461.70,97.88 462.20,97.65 462.70,97.24 463.20,96.61 463.70,95.82 464.20,94.93 464.70,93.99 465.20,92.92 465.70,91.59 466.20,90.19 466.70,88.90 467.20,87.68 467.70,86.47 468.20,85.28 468.70,84.10 469.20,82.92 469.70,81.75 470.20,80.59 470.70,79.45 471.20,78.32 471.70,77.15 472.20,76.00 472.70,74.90 473.20,73.92 473.70,73.09 474.20,72.39 474.70,71.78 475.20,71.19 475.70,70.58 476.20,69.90 476.70,69.15 477.20,68.36 477.70,67.53 478.20,66.64 478.70,65.70 479.20,64.68 479.70,63.57 480.20,62.37 480.70,61.10 481.20,59.72 481.70,58.08 482.20,56.40 482.70,55.00 483.20,53.95 483.70,53.07 484.20,52.25 484.70,51.38 485.20,50.36 485.70,49.14 486.20,47.87 486.70,46.67 487.20,45.71 487.70,45.08 488.20,44.54 488.70,44.04 489.20,43.59 489.70,43.20 490.20,42.90 490.70,42.69 491.20,42.60 491.70,42.63 492.20,42.76 492.70,42.96 493.20,43.22 493.70,43.53 494.20,43.86 494.70,44.24 495.20,44.80 495.70,45.49 496.20,46.25 496.70,47.04 497.20,47.81 497.70,48.61 498.20,49.46 498.70,50.33 499.20,51.21 499.70,52.07 500.20,52.93 500.70,53.79 501.20,54.65 501.70,55.54 502.20,56.46 502.70,57.36 503.20,58.14 503.70,58.78 504.20,59.35 504.70,59.99 505.20,60.83 505.70,61.87 506.20,63.05 506.70,64.32 507.20,65.63 507.70,66.91 508.20,68.23 508.70,69.59 509.20,71.02 509.70,72.50 510.20,74.06 510.70,75.70 511.20,77.42 511.70,79.25 512.20,81.22 512.70,83.29 513.20,85.38 513.70,87.40 514.20,89.39 514.70,91.35 515.20,93.26 515.70,95.11 516.20,96.98 516.70,98.75 517.20,100.25 517.70,101.46 518.20,102.59 518.70,103.60 519.20,104.44 519.70,105.10 520.20,105.59 520.70,106.06 521.20,106.49 521.70,106.86 522.20,107.15 522.70,107.33 523.20,107.40 523.70,107.37 524.20,107.29 524.70,107.15 525.20,106.99 525.70,106.79 526.20,106.57 526.70,106.35 527.20,106.07 527.70,105.67 528.20,105.22 528.70,104.77 529.20,104.37 529.70,103.99 530.20,103.62 530.70,103.23 531.20,102.80 531.70,102.33 532.20,101.85 532.70,101.33 533.20,100.77 533.70,100.15 534.20,99.45 534.70,98.67 535.20,97.70 535.70,96.56 536.20,95.29 536.70,93.95 537.20,92.58 537.70,91.12 538.20,89.49 538.70,87.80 539.20,86.18 539.70,84.77 540.20,83.55 540.70,82.05 541.20,80.25 541.70,78.29 542.20,76.28 542.70,74.33 543.20,72.39 543.70,70.42 544.20,68.43 544.70,66.40 545.20,64.32 545.70,62.19 546.20,60.04 546.70,57.92 547.20,55.74 547.70,53.46 548.20,51.44 548.70,49.98 549.20,48.80 549.70,47.78 550.20,46.89 550.70,46.09 551.20,45.36 551.70,44.68 552.20,44.06 552.70,43.49 553.20,42.97 553.70,42.49 554.20,42.05 554.70,41.64 555.20,41.27 555.70,40.91 556.20,40.56 556.70,40.22 557.20,39.87 557.70,39.50 558.20,39.09 558.70,38.68 559.20,38.28 559.70,37.92 560.20,37.63 560.70,37.43 561.20,37.30 561.70,37.20 562.20,37.10 562.70,37.04 563.20,37.00 563.70,37.02 564.20,37.12 564.70,37.31 565.20,37.56 565.70,37.88 566.20,38.61 566.70,39.70 567.20,40.88 567.70,41.99 568.20,43.17 568.70,44.43 569.20,45.78 569.70,47.27 570.20,48.86 570.70,50.48 571.20,52.03 571.70,53.59 572.20,55.40 572.70,57.76 573.20,59.87 573.70,61.64 574.20,63.29 574.70,64.95 575.20,66.75 575.70,68.60 576.20,70.40 576.70,72.03 577.20,73.50 577.70,74.89 578.20,76.31 578.70,77.82 579.20,79.36 579.70,80.76 580.20,81.99 580.70,83.13 581.20,84.27 581.70,85.51 582.20,86.82 582.70,88.17 583.20,89.54 583.70,90.91 584.20,92.27 584.70,93.63 585.20,94.99 585.70,96.35 586.20,97.69 586.70,99.00 587.20,100.28 587.70,101.54 588.20,102.78 588.70,104.02 589.20,105.25 589.70,106.51 590.20,107.86 590.70,109.28 591.20,110.67 591.70,111.98 592.20,113.13 592.70,114.05 593.20,114.78 593.70,115.50 594.20,116.14 594.70,116.62 595.20,116.87 595.70,116.86 596.20,116.61 596.70,116.20 597.20,115.66 597.70,115.07 598.20,114.43 598.70,113.55 599.20,112.46 599.70,111.24 600.20,109.98 600.70,108.76 601.20,107.55 601.70,106.31 602.20,105.02 602.70,103.68 603.20,102.29 603.70,100.82 604.20,99.25 604.70,97.63 605.20,95.98 605.70,94.33 606.20,92.63 606.70,91.12 607.20,89.77 607.70,88.49 608.20,87.22 608.70,85.87 609.20,84.39 609.70,82.81 610.20,81.16 610.70,79.45 611.20,77.68 611.70,75.86 612.20,74.01 612.70,72.12 613.20,70.14 613.70,68.08 614.20,65.97 614.70,63.84 615.20,61.74 615.70,59.68 616.20,57.57 616.70,55.43 617.20,53.32 617.70,51.29 618.20,49.39 618.70,47.67 619.20,46.06 619.70,44.53 620.20,43.08 620.70,41.72 621.20,40.45 621.70,39.30 621.70,39.30" fill="none" stroke="#4a4a4a" stroke-width="1.5" stroke-linejoin="round"/>
<path d="M379.81,55.33 380.05,55.68 380.29,56.05 380.54,56.42 380.80,56.81 381.06,57.21 381.32,57.62 381.60,58.03 381.87,58.45 382.16,58.88 382.45,59.31 382.75,59.74 383.05,60.17 383.36,60.61 383.68,61.04 384.01,61.47 384.34,61.89 384.68,62.31 385.02,62.73 385.38,63.13 385.74,63.53 386.10,63.92 386.48,64.29 386.86,64.65 387.25,65.00 387.65,65.34 388.06,65.65 388.47,65.95 388.90,66.23 389.33,66.49 389.77,66.73 390.21,66.94 390.67,67.13 391.14,67.30 391.61,67.43 392.09,67.55 392.58,67.64 393.07,67.70 393.57,67.74 394.06,67.76 394.57,67.76 395.07,67.73 395.57,67.69 396.08,67.62 396.58,67.54 397.07,67.44 397.57,67.32 398.06,67.18 398.54,67.03 399.01,66.86 399.48,66.68 399.94,66.49 400.39,66.28 400.83,66.06 401.26,65.83 401.68,65.58 402.09,65.33 402.49,65.06 402.88,64.78 403.27,64.49 403.65,64.19 404.02,63.88 404.38,63.57 404.74,63.24 405.09,62.91 405.44,62.56 405.78,62.21 406.11,61.85 406.44,61.49 406.77,61.12 407.09,60.74 407.40,60.36 407.71,59.97 408.02,59.57 408.33,59.17 408.63,58.77 408.93,58.36 409.23,57.95 409.53,57.54 409.82,57.12 410.12,56.70 410.41,56.28 410.70,55.85 410.99,55.43 411.28,55.00 411.58,54.57 411.87,54.15 412.17,53.72 412.46,53.29 412.76,52.87 413.06,52.44 413.36,52.02 413.67,51.60 413.97,51.18 414.28,50.77 414.60,50.35 414.92,49.95 415.24,49.54 415.57,49.14 415.90,48.74 416.24,48.35 416.58,47.96 416.93,47.58 417.29,47.21 417.65,46.84 418.02,46.48 418.39,46.13 418.77,45.78 419.16,45.44 419.55,45.12 419.95,44.80 420.36,44.49 420.77,44.18 421.19,43.89 421.61,43.61 422.04,43.34 422.47,43.09 422.91,42.84 423.35,42.61 423.80,42.39 424.25,42.18 424.71,41.99 425.17,41.81 425.64,41.64 426.11,41.49 426.59,41.36 427.07,41.24 427.55,41.13 428.04,41.05 428.52,40.98 429.01,40.93 429.49,40.91 429.98,40.90 430.46,40.91 430.93,40.94 431.40,41.00 431.87,41.08 432.33,41.19 432.78,41.32 433.22,41.47 433.65,41.65 434.07,41.86 434.49,42.10 434.89,42.36 435.28,42.64 435.66,42.95 436.03,43.27 436.39,43.62 436.75,43.98 437.10,44.36 437.44,44.75 437.78,45.16 438.11,45.58 438.43,46.00 438.75,46.44 439.06,46.88 439.38,47.33 439.68,47.78 439.99,48.23 440.29,48.69 440.59,49.14 440.89,49.59 441.19,50.04 441.49,50.48 441.79,50.92 442.09,51.34 442.39,51.76 442.69,52.17 443.00,52.57 443.30,52.97 443.60,53.36 443.91,53.74 444.21,54.12 444.52,54.49 444.82,54.87 445.13,55.24 445.43,55.60 445.74,55.97 446.04,56.34 446.35,56.71 446.65,57.08 446.95,57.46 447.25,57.83 447.55,58.22 447.85,58.60 448.15,59.00 448.45,59.40 448.74,59.80 449.04,60.21 449.34,60.63 449.63,61.05 449.93,61.47 450.23,61.89 450.53,62.32 450.83,62.74 451.14,63.16 451.45,63.58 451.76,64.00 452.08,64.41 452.40,64.82 452.73,65.23 453.07,65.62 453.41,66.01 453.76,66.39 454.12,66.76 454.48,67.12 454.86,67.47 455.24,67.81 455.63,68.13 456.03,68.44 456.45,68.74 456.87,69.01 457.31,69.28 457.76,69.52 458.21,69.74 458.68,69.95 459.15,70.13 459.62,70.29 460.10,70.43 460.59,70.54 461.07,70.63 461.55,70.69 462.03,70.72 462.51,70.72 462.98,70.69 463.44,70.64 463.90,70.54 464.34,70.42 464.78,70.26 465.20,70.07 465.61,69.84 466.01,69.57 466.39,69.27 466.77,68.94 467.13,68.59 467.48,68.21 467.82,67.82 468.16,67.41 468.48,66.99 468.81,66.55 469.13,66.11 469.44,65.67 469.75,65.23 470.06,64.80 470.37,64.37 470.68,63.95 470.99,63.53 471.30,63.12 471.61,62.72 471.92,62.32 472.23,61.92 472.54,61.53 472.84,61.13 473.15,60.74 473.46,60.35 473.77,59.96 474.08,59.57 474.39,59.18 474.69,58.79 475.00,58.39 475.31,57.99 475.62,57.59 475.92,57.19 476.23,56.78 476.53,56.38 476.83,55.97 477.12,55.56 477.41,55.15 477.70,54.74 477.99,54.32 478.27,53.90 478.55,53.49 478.82,53.07 479.09,52.65 479.35,52.23 479.61,51.80 479.86,51.38 480.12,50.95 480.37,50.53 480.61,50.10 480.86,49.67 481.11,49.25 481.35,48.82 481.60,48.39 481.85,47.96 482.10,47.53 482.35,47.10 482.61,46.68 482.87,46.25 483.13,45.82 483.40,45.40 483.68,44.97 483.96,44.55 484.25,44.12 484.55,43.70 484.86,43.28 485.18,42.86 485.50,42.44 485.84,42.03 486.18,41.61 486.54,41.21 486.91,40.81 487.28,40.42 487.66,40.04 488.06,39.67 488.45,39.32 488.86,38.99 489.27,38.68 489.68,38.40 490.11,38.14 490.53,37.91 490.96,37.71 491.39,37.54 491.83,37.40 492.27,37.30 492.70,37.24 493.14,37.23 493.59,37.25 494.03,37.32 494.47,37.42 494.91,37.56 495.35,37.73 495.78,37.94 496.22,38.17 496.65,38.42 497.09,38.70 497.51,39.00 497.94,39.31 498.36,39.64 498.78,39.98 499.19,40.33 499.60,40.68 500.01,41.04 500.41,41.41 500.80,41.77 501.19,42.13 501.57,42.48 501.94,42.84 502.31,43.20 502.68,43.56 503.04,43.92 503.39,44.27 503.74,44.63 504.08,44.99 504.42,45.36 504.75,45.72 505.08,46.09 505.40,46.46 505.72,46.83 506.04,47.20 506.34,47.58 506.65,47.97 506.95,48.35 507.24,48.75 507.53,49.14 507.82,49.55 508.10,49.95 508.38,50.37 508.65,50.78 508.93,51.20 509.19,51.63 509.46,52.05 509.72,52.49 509.98,52.92 510.24,53.36 510.50,53.80 510.75,54.24 511.01,54.68 511.26,55.12 511.52,55.57 511.77,56.02 512.02,56.46 512.28,56.91 512.53,57.36 512.78,57.80 513.04,58.25 513.30,58.69 513.56,59.14 513.82,59.58 514.08,60.02 514.35,60.46 514.61,60.89 514.89,61.32 515.16,61.75 515.44,62.18 515.72,62.60 516.01,63.02 516.30,63.44 516.60,63.85 516.90,64.25 517.20,64.65 517.51,65.04 517.83,65.43 518.15,65.81 518.48,66.19 518.82,66.56 519.16,66.92 519.52,67.28 519.87,67.62 520.24,67.96 520.61,68.29 521.00,68.62 521.39,68.93 521.79,69.24 522.20,69.53 522.61,69.82 523.04,70.09 523.48,70.36 523.92,70.61 524.37,70.84 524.83,71.07 525.29,71.27 525.76,71.46 526.23,71.63 526.70,71.78 527.18,71.91 527.65,72.02 528.13,72.10 528.60,72.16 529.07,72.20 529.54,72.20 530.01,72.18 530.47,72.13 530.92,72.05 531.37,71.94 531.82,71.79 532.25,71.61 532.68,71.39 533.09,71.14 533.50,70.86 533.90,70.54 534.29,70.20 534.67,69.83 535.04,69.45 535.41,69.04 535.77,68.63 536.12,68.20 536.46,67.76 536.80,67.32 537.13,66.87 537.46,66.43 537.78,65.99 538.10,65.56 538.41,65.13 538.72,64.70 539.02,64.27 539.31,63.85 539.60,63.43 539.89,63.01 540.17,62.59 540.45,62.17 540.72,61.75 540.98,61.33 541.25,60.91 541.50,60.49 541.76,60.06 542.01,59.64 542.25,59.21 542.49,58.78 542.73,58.35 542.97,57.92 543.20,57.49 543.43,57.05 543.65,56.62 543.88,56.18 544.10,55.74 544.32,55.30 544.54,54.86 544.75,54.42 544.97,53.98 545.19,53.54 545.40,53.09 545.62,52.65 545.83,52.20 546.05,51.76 546.27,51.31 546.48,50.87 546.70,50.42 546.92,49.98 547.14,49.53 547.37,49.09 547.59,48.64 547.82,48.20 548.05,47.76 548.29,47.31 548.52,46.87 548.76,46.43 549.01,45.99 549.26,45.55 549.51,45.11 549.77,44.67 550.03,44.23 550.29,43.80 550.57,43.36 550.84,42.93 551.13,42.50 551.42,42.07 551.71,41.64 552.02,41.22 552.32,40.79 552.64,40.37 552.96,39.96 553.30,39.55 553.63,39.15 553.98,38.75 554.33,38.37 554.70,38.00 555.07,37.64 555.44,37.29 555.83,36.96 556.23,36.64 556.63,36.34 557.04,36.06 557.47,35.80 557.90,35.56 558.34,35.33 558.79,35.14 559.26,34.96 559.73,34.81 560.21,34.69 560.69,34.60 561.18,34.52 561.67,34.48 562.16,34.46 562.65,34.47 563.13,34.51 563.61,34.58 564.07,34.68 564.53,34.80 564.98,34.96 565.41,35.14 565.82,35.36 566.22,35.61 566.59,35.88 566.96,36.19 567.30,36.51 567.63,36.86 567.95,37.24 568.26,37.63 568.56,38.03 568.84,38.46 569.12,38.89 569.39,39.34 569.65,39.80 569.91,40.27 570.17,40.74 570.42,41.21 570.67,41.68 570.92,42.16 571.17,42.63 571.42,43.10 571.67,43.56 571.92,44.02 572.18,44.47 572.44,44.92 572.70,45.36 572.95,45.81 573.22,46.24 573.48,46.68 573.74,47.11 574.00,47.54 574.26,47.96 574.52,48.39 574.78,48.81 575.04,49.24 575.30,49.66 575.56,50.08 575.82,50.50 576.07,50.93 576.33,51.35 576.58,51.77 576.83,52.20 577.08,52.62 577.33,53.05 577.58,53.48 577.82,53.91 578.07,54.34 578.31,54.77 578.55,55.20 578.79,55.64 579.03,56.07 579.28,56.50 579.52,56.94 579.76,57.37 580.00,57.80 580.24,58.24 580.48,58.67 580.72,59.11 580.97,59.54 581.21,59.98 581.46,60.41 581.71,60.85 581.95,61.28 582.20,61.72 582.46,62.15 582.71,62.59 582.97,63.02 583.22,63.45 583.48,63.88 583.75,64.31 584.01,64.74 584.28,65.17 584.55,65.60 584.83,66.03 585.11,66.45 585.39,66.88 585.67,67.30 585.96,67.72 586.26,68.14 586.55,68.56 586.85,68.98 587.16,69.39 587.47,69.81 587.79,70.22 588.11,70.63 588.43,71.04 588.77,71.44 589.11,71.84 589.45,72.23 589.81,72.61 590.18,72.99 590.56,73.35 590.95,73.70 591.35,74.05 591.76,74.37 592.19,74.68 592.63,74.97 593.07,75.24 593.52,75.48 593.97,75.69 594.43,75.86 594.88,75.99 595.32,76.08 595.76,76.12 596.19,76.12 596.61,76.06 597.03,75.97 597.43,75.83 597.83,75.66 598.22,75.44 598.61,75.20 598.98,74.93 599.35,74.62 599.72,74.30 600.08,73.95 600.43,73.58 600.77,73.19 601.11,72.79 601.45,72.37 601.78,71.95 602.10,71.52 602.42,71.08 602.74,70.64 603.05,70.21 603.36,69.77 603.67,69.34 603.97,68.90 604.26,68.47 604.56,68.04 604.85,67.61 605.13,67.18 605.42,66.75 605.70,66.32 605.98,65.89 606.25,65.47 606.52,65.04 606.79,64.61 607.06,64.19 607.33,63.76 607.59,63.34 607.85,62.91 608.11,62.49 608.37,62.06 608.62,61.64 608.88,61.21 609.13,60.79 609.38,60.36 609.63,59.94 609.88,59.51 610.13,59.09 610.38,58.66 610.63,58.24 610.88,57.81 611.12,57.38 611.37,56.95 611.62,56.53 611.87,56.10 612.11,55.67 612.36,55.24 612.61,54.81 612.86,54.37 613.11,53.94 613.36,53.51 613.61,53.07 613.86,52.63 614.11,52.20 614.36,51.76 614.62,51.32 614.87,50.88 615.12,50.44 615.38,50.00 615.63,49.56 615.88,49.12 616.14,48.67 616.39,48.23 616.65,47.79 616.90,47.35 617.15,46.90 617.41,46.46 617.66,46.02 617.91,45.57 618.16,45.13 618.41,44.68 618.66,44.24 618.91,43.80 619.16,43.35 619.40,42.91 619.65,42.47 619.90,42.03 620.14,41.58 620.38,41.14 620.62,40.70 620.86,40.26 621.10,39.82 621.34,39.38 621.57,38.94 621.81,38.51 622.04,38.07 622.27,37.63 622.49,37.20" fill="none" stroke="#e24646" stroke-width="1.5" stroke-linejoin="round"/>
<path d="M380.20,213.30 380.70,212.77 381.20,212.25 381.70,211.76 382.20,211.30 382.70,210.89 383.20,210.55 383.70,210.27 384.20,210.08 384.70,209.99 385.20,210.00 385.70,210.10 386.20,210.29 386.70,210.54 387.20,210.85 387.70,211.21 388.20,211.61 388.70,212.03 389.20,212.46 389.70,212.90 390.20,213.32 390.70,213.72 391.20,214.09 391.70,214.42 392.20,214.69 392.70,214.89 393.20,215.01 393.70,215.05 394.20,214.98 394.70,214.80 395.20,214.53 395.70,214.18 396.20,213.76 396.70,213.29 397.20,212.78 397.70,212.24 398.20,211.68 398.70,211.13 399.20,210.59 399.70,210.07 400.20,209.60 400.70,209.17 401.20,208.82 401.70,208.55 402.20,208.37 402.70,208.30 403.20,208.34 403.70,208.51 404.20,208.80 404.70,209.18 405.20,209.66 405.70,210.23 406.20,210.88 406.70,211.60 407.20,212.38 407.70,213.21 408.20,214.08 408.70,215.00 409.20,215.93 409.70,216.89 410.20,217.86 410.70,218.82 411.20,219.77 411.70,220.69 412.20,221.57 412.70,222.40 413.20,223.16 413.70,223.84 414.20,224.43 414.70,224.92 415.20,225.30 415.70,225.55 416.20,225.69 416.70,225.74 417.20,225.70 417.70,225.60 418.20,225.44 418.70,225.26 419.20,225.05 419.70,224.84 420.20,224.65 420.70,224.48 421.20,224.36 421.70,224.29 422.20,224.30 422.70,224.39 423.20,224.57 423.70,224.80 424.20,225.07 424.70,225.38 425.20,225.70 425.70,226.03 426.20,226.34 426.70,226.62 427.20,226.85 427.70,227.03 428.20,227.14 428.70,227.15 429.20,227.06 429.70,226.86 430.20,226.52 430.70,226.05 431.20,225.44 431.70,224.71 432.20,223.85 432.70,222.86 433.20,221.76 433.70,220.53 434.20,219.19 434.70,217.74 435.20,216.17 435.70,214.50 436.20,212.73 436.70,210.88 437.20,209.00 437.70,207.11 438.20,205.26 438.70,203.48 439.20,201.79 439.70,200.25 440.20,198.87 440.70,197.71 441.20,196.77 441.70,196.07 442.20,195.56 442.70,195.23 443.20,195.05 443.70,194.99 444.20,195.03 444.70,195.14 445.20,195.30 445.70,195.48 446.20,195.67 446.70,195.87 447.20,196.07 447.70,196.27 448.20,196.46 448.70,196.63 449.20,196.78 449.70,196.90 450.20,196.99 450.70,197.04 451.20,197.05 451.70,197.00 452.20,196.90 452.70,196.75 453.20,196.56 453.70,196.34 454.20,196.11 454.70,195.86 455.20,195.61 455.70,195.37 456.20,195.14 456.70,194.95 457.20,194.78 457.70,194.67 458.20,194.60 458.70,194.61 459.20,194.68 459.70,194.84 460.20,195.10 460.70,195.47 461.20,195.96 461.70,196.59 462.20,197.37 462.70,198.31 463.20,199.42 463.70,200.72 464.20,202.22 464.70,203.90 465.20,205.74 465.70,207.68 466.20,209.66 466.70,211.64 467.20,213.58 467.70,215.41 468.20,217.09 468.70,218.56 469.20,219.82 469.70,220.88 470.20,221.76 470.70,222.48 471.20,223.06 471.70,223.53 472.20,223.90 472.70,224.20 473.20,224.44 473.70,224.65 474.20,224.82 474.70,224.98 475.20,225.14 475.70,225.30 476.20,225.48 476.70,225.68 477.20,225.92 477.70,226.20 478.20,226.55 478.70,226.95 479.20,227.42 479.70,227.96 480.20,228.55 480.70,229.21 481.20,229.93 481.70,230.70 482.20,231.53 482.70,232.41 483.20,233.32 483.70,234.25 484.20,235.19 484.70,236.13 485.20,237.06 485.70,237.96 486.20,238.83 486.70,239.64 487.20,240.40 487.70,241.08 488.20,241.68 488.70,242.18 489.20,242.57 489.70,242.84 490.20,242.98 490.70,242.98 491.20,242.84 491.70,242.56 492.20,242.15 492.70,241.63 493.20,241.00 493.70,240.28 494.20,239.47 494.70,238.58 495.20,237.62 495.70,236.60 496.20,235.53 496.70,234.42 497.20,233.27 497.70,232.10 498.20,230.92 498.70,229.74 499.20,228.59 499.70,227.49 500.20,226.45 500.70,225.50 501.20,224.65 501.70,223.89 502.20,223.20 502.70,222.56 503.20,221.96 503.70,221.37 504.20,220.77 504.70,220.16 505.20,219.51 505.70,218.80 506.20,218.02 506.70,217.14 507.20,216.14 507.70,215.02 508.20,213.76 508.70,212.33 509.20,210.71 509.70,208.90 510.20,206.88 510.70,204.64 511.20,202.24 511.70,199.72 512.20,197.15 512.70,194.59 513.20,192.07 513.70,189.66 514.20,187.42 514.70,185.35 515.20,183.46 515.70,181.77 516.20,180.28 516.70,179.00 517.20,177.93 517.70,177.05 518.20,176.34 518.70,175.79 519.20,175.37 519.70,175.05 520.20,174.83 520.70,174.68 521.20,174.58 521.70,174.52 522.20,174.51 522.70,174.57 523.20,174.70 523.70,174.93 524.20,175.28 524.70,175.75 525.20,176.36 525.70,177.13 526.20,178.04 526.70,179.08 527.20,180.20 527.70,181.37 528.20,182.57 528.70,183.74 529.20,184.87 529.70,185.91 530.20,186.84 530.70,187.66 531.20,188.38 531.70,189.04 532.20,189.65 532.70,190.24 533.20,190.83 533.70,191.44 534.20,192.10 534.70,192.83 535.20,193.64 535.70,194.56 536.20,195.58 536.70,196.72 537.20,198.00 537.70,199.43 538.20,201.00 538.70,202.72 539.20,204.58 539.70,206.58 540.20,208.72 540.70,210.96 541.20,213.24 541.70,215.50 542.20,217.72 542.70,219.91 543.20,222.09 543.70,224.26 544.20,226.45 544.70,228.66 545.20,230.90 545.70,233.17 546.20,235.40 546.70,237.54 547.20,239.53 547.70,241.30 548.20,242.82 548.70,244.08 549.20,245.12 549.70,245.95 550.20,246.59 550.70,247.07 551.20,247.40 551.70,247.61 552.20,247.72 552.70,247.73 553.20,247.69 553.70,247.59 554.20,247.46 554.70,247.32 555.20,247.19 555.70,247.08 556.20,247.01 556.70,247.01 557.20,247.07 557.70,247.19 558.20,247.37 558.70,247.58 559.20,247.81 559.70,248.07 560.20,248.34 560.70,248.61 561.20,248.86 561.70,249.09 562.20,249.29 562.70,249.45 563.20,249.56 563.70,249.61 564.20,249.58 564.70,249.46 565.20,249.22 565.70,248.84 566.20,248.31 566.70,247.60 567.20,246.69 567.70,245.56 568.20,244.20 568.70,242.59 569.20,240.77 569.70,238.77 570.20,236.66 570.70,234.47 571.20,232.25 571.70,230.04 572.20,227.88 572.70,225.79 573.20,223.75 573.70,221.77 574.20,219.84 574.70,217.95 575.20,216.10 575.70,214.28 576.20,212.49 576.70,210.77 577.20,209.11 577.70,207.54 578.20,206.08 578.70,204.74 579.20,203.54 579.70,202.47 580.20,201.51 580.70,200.62 581.20,199.76 581.70,198.91 582.20,198.02 582.70,197.08 583.20,196.03 583.70,194.86 584.20,193.52 584.70,192.00 585.20,190.32 585.70,188.53 586.20,186.63 586.70,184.68 587.20,182.69 587.70,180.71 588.20,178.74 588.70,176.83 589.20,175.00 589.70,173.26 590.20,171.64 590.70,170.17 591.20,168.87 591.70,167.76 592.20,166.84 592.70,166.10 593.20,165.52 593.70,165.08 594.20,164.77 594.70,164.56 595.20,164.44 595.70,164.39 596.20,164.42 596.70,164.55 597.20,164.82 597.70,165.26 598.20,165.89 598.70,166.75 599.20,167.87 599.70,169.28 600.20,170.96 600.70,172.87 601.20,174.97 601.70,177.20 602.20,179.53 602.70,181.90 603.20,184.30 603.70,186.69 604.20,189.05 604.70,191.36 605.20,193.59 605.70,195.73 606.20,197.74 606.70,199.60 607.20,201.30 607.70,202.86 608.20,204.31 608.70,205.68 609.20,207.00 609.70,208.30 610.20,209.60 610.70,210.95 611.20,212.37 611.70,213.88 612.20,215.52 612.70,217.29 613.20,219.17 613.70,221.15 614.20,223.21 614.70,225.33 615.20,227.52 615.70,229.75 616.20,232.00 616.70,234.27 617.20,236.54 617.70,238.79 618.20,241.02 618.70,243.21 619.20,245.34 619.70,247.40 620.20,249.38 620.70,251.28 621.20,253.12 621.70,254.93 622.00,256.00" fill="none" stroke="#8a1cf0" stroke-width="1.5" stroke-linejoin="round"/>
<line x1="170.90" y1="10.90" x2="195.40" y2="10.90" stroke="#4a4a4a" stroke-width="1.6"/>
<line x1="170.90" y1="25.70" x2="195.40" y2="25.70" stroke="#e24646" stroke-width="1.6"/>
<line x1="189.30" y1="132.60" x2="214.60" y2="132.60" stroke="#8a1cf0" stroke-width="1.6"/>
<line x1="513.10" y1="13.40" x2="537.80" y2="13.40" stroke="#4a4a4a" stroke-width="1.6"/>
<line x1="513.10" y1="28.70" x2="537.80" y2="28.70" stroke="#e24646" stroke-width="1.6"/>
<line x1="533.00" y1="149.80" x2="557.90" y2="149.80" stroke="#8a1cf0" stroke-width="1.6"/>
<ellipse cx="623.3" cy="41" rx="7.8" ry="9.5" fill="none" stroke="#8a1cf0" stroke-width="1.3"/>
<line x1="615.50" y1="43.30" x2="545.00" y2="111.60" stroke="#6a6a6a" stroke-width="0.75"/>
<path d="M541.9,114.7 L544.9,110.3 L546.5,111.9 Z" fill="#1a1a1a" stroke="#1a1a1a" stroke-width="0.4" stroke-linejoin="round"/>
<text transform="translate(197.90,14.60) scale(0.8797,1)" font-size="12" fill="#111">Main beam mid-section</text>
<text transform="translate(198.00,29.40) scale(0.8820,1)" font-size="12" fill="#111">Pier top</text>
<text transform="translate(216.89,136.30) scale(0.8861,1)" font-size="12" fill="#111">Bearing axial force</text>
<text transform="translate(540.00,17.30) scale(0.8797,1)" font-size="12" fill="#111">Main beam mid-section</text>
<text transform="translate(539.99,31.60) scale(0.8928,1)" font-size="12" fill="#111">Pier top</text>
<text transform="translate(559.99,153.70) scale(0.8850,1)" font-size="12" fill="#111">Bearing axial force</text>
<text transform="translate(434.48,127.50) scale(0.8830,1)" font-size="12" fill="#111">Vertical separation (beam &amp; bearing)</text>
<text transform="translate(152.61,289.90) scale(0.9052,1)" font-size="11.6" fill="#111">Times (s)</text>
<text transform="translate(493.21,288.60) scale(0.9190,1)" font-size="11.6" fill="#111">Times (s)</text>
<text transform="translate(286.70,317.80) scale(1.0344,1)" font-size="17.5" fill="#111" style="stroke-width:0.05px">(a)</text>
<text transform="translate(467.42,317.80) scale(1.0176,1)" font-size="17.5" fill="#111" style="stroke-width:0.05px">(b)</text>
<text transform="translate(10.20,213.64) rotate(-90) scale(0.9806,0.8800)" font-size="12" font-weight="normal" fill="#111" style="stroke-width:0.4px">Bridge vertical displacement (mm)</text>
<text transform="translate(332.60,191.04) rotate(-90) scale(0.9769,0.8800)" font-size="12" font-weight="normal" fill="#111" style="stroke-width:0.2px">Bearing axial force (MN)</text>
<text transform="translate(353.00,214.84) rotate(-90) scale(0.9944,0.8800)" font-size="12" font-weight="normal" fill="#111" style="stroke-width:0.4px">Bridge vertical displacement (mm)</text>
<text transform="translate(679.20,190.34) rotate(-90) scale(0.9752,0.8800)" font-size="12" font-weight="normal" fill="#111" style="stroke-width:0.2px">Bearing axial force (MN)</text>
<text transform="translate(24.27,11.10) scale(0.8800,1)" font-size="11.5" fill="#111">10</text>
<text transform="translate(29.33,52.88) scale(0.8800,1)" font-size="11.5" fill="#111">0</text>
<text transform="translate(18.56,94.67) scale(0.8800,1)" font-size="11.5" fill="#111">−10</text>
<text transform="translate(18.56,136.45) scale(0.8800,1)" font-size="11.5" fill="#111">−20</text>
<text transform="translate(18.56,178.23) scale(0.8800,1)" font-size="11.5" fill="#111">−30</text>
<text transform="translate(18.56,220.02) scale(0.8800,1)" font-size="11.5" fill="#111">−40</text>
<text transform="translate(18.56,261.80) scale(0.8800,1)" font-size="11.5" fill="#111">−50</text>
<text transform="translate(310.60,11.10) scale(0.8800,1)" font-size="11.5" fill="#111">40</text>
<text transform="translate(310.32,73.77) scale(0.8800,1)" font-size="11.5" fill="#111">30</text>
<text transform="translate(310.36,136.45) scale(0.8800,1)" font-size="11.5" fill="#111">20</text>
<text transform="translate(309.91,199.12) scale(0.8800,1)" font-size="11.5" fill="#111">10</text>
<text transform="translate(310.41,261.80) scale(0.8800,1)" font-size="11.5" fill="#111">0</text>
<text transform="translate(33.06,273.80) scale(0.8800,1)" font-size="11.5" fill="#111">0. 0</text>
<text transform="translate(98.88,273.80) scale(0.8800,1)" font-size="11.5" fill="#111">0. 5</text>
<text transform="translate(164.43,273.80) scale(0.8800,1)" font-size="11.5" fill="#111">1. 0</text>
<text transform="translate(230.25,273.80) scale(0.8800,1)" font-size="11.5" fill="#111">1. 5</text>
<text transform="translate(296.28,273.80) scale(0.8800,1)" font-size="11.5" fill="#111">2. 0</text>
<text transform="translate(363.08,11.10) scale(0.8800,1)" font-size="11.5" fill="#111">15</text>
<text transform="translate(368.13,52.67) scale(0.8800,1)" font-size="11.5" fill="#111">0</text>
<text transform="translate(357.37,94.23) scale(0.8800,1)" font-size="11.5" fill="#111">−15</text>
<text transform="translate(357.36,135.80) scale(0.8800,1)" font-size="11.5" fill="#111">−30</text>
<text transform="translate(357.37,177.37) scale(0.8800,1)" font-size="11.5" fill="#111">−45</text>
<text transform="translate(357.36,218.93) scale(0.8800,1)" font-size="11.5" fill="#111">−60</text>
<text transform="translate(357.37,260.50) scale(0.8800,1)" font-size="11.5" fill="#111">−75</text>
<text transform="translate(652.81,11.10) scale(0.8800,1)" font-size="11.5" fill="#111">80</text>
<text transform="translate(652.77,73.45) scale(0.8800,1)" font-size="11.5" fill="#111">60</text>
<text transform="translate(653.00,135.80) scale(0.8800,1)" font-size="11.5" fill="#111">40</text>
<text transform="translate(652.76,198.15) scale(0.8800,1)" font-size="11.5" fill="#111">20</text>
<text transform="translate(652.81,260.50) scale(0.8800,1)" font-size="11.5" fill="#111">0</text>
<text transform="translate(372.06,272.80) scale(0.8800,1)" font-size="11.5" fill="#111">0. 0</text>
<text transform="translate(438.92,272.80) scale(0.8800,1)" font-size="11.5" fill="#111">0. 2</text>
<text transform="translate(505.50,272.80) scale(0.8800,1)" font-size="11.5" fill="#111">0. 4</text>
<text transform="translate(572.34,272.80) scale(0.8800,1)" font-size="11.5" fill="#111">0. 6</text>
<text transform="translate(639.16,272.80) scale(0.8800,1)" font-size="11.5" fill="#111">0. 8</text>
</svg>
</body></html>
